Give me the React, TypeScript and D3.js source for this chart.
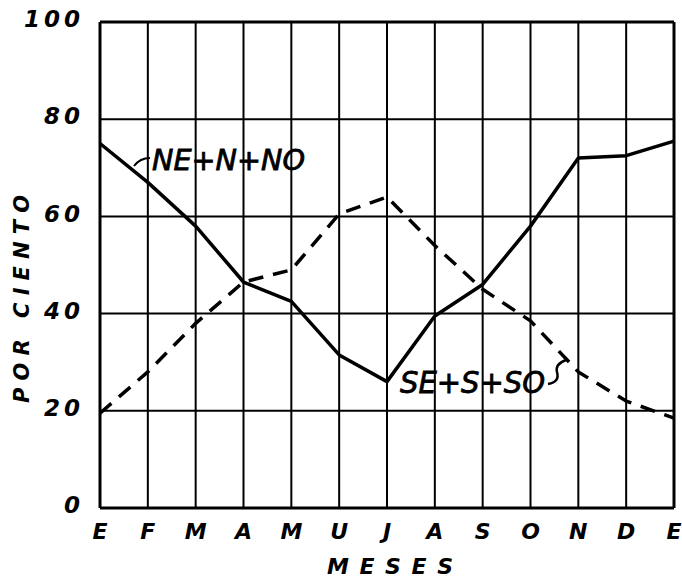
import React from "react";
import * as d3 from "d3";

const months = ["E", "F", "M", "A", "M", "U", "J", "A", "S", "O", "N", "D", "E"];
const northValues = [75, 67, 58, 46.5, 42.5, 31.5, 26, 39.5, 46, 58, 72, 72.5, 75.5];
const southValues = [19.5, 28, 38, 46.5, 49, 60.5, 64, 54, 45, 38.5, 28, 22, 18.5];
const yTicks = [0, 20, 40, 60, 80, 100];

const W = 682;
const H = 579;
const X0 = 100;
const X1 = 674;
const Y0 = 508;
const Y1 = 22;

export default function App() {
  const x = d3.scaleLinear().domain([0, months.length - 1]).range([X0, X1]);
  const y = d3.scaleLinear().domain([0, 100]).range([Y0, Y1]);
  const line = d3
    .line<number>()
    .x((_, i) => x(i))
    .y((d) => y(d));

  const font = "'DejaVu Sans', sans-serif";

  return (
    <svg width={W} height={H} style={{ position: "absolute", left: 0, top: 0, background: "#fff" }}>
      <rect x={0} y={0} width={W} height={H} fill="#fff" />
      {/* grid verticals */}
      {months.map((_, i) => (
        <line key={"v" + i} x1={x(i)} x2={x(i)} y1={Y1} y2={Y0} stroke="#000" strokeWidth={i === 0 || i === months.length - 1 ? 3 : 2} />
      ))}
      {/* grid horizontals */}
      {yTicks.map((t) => (
        <line key={"h" + t} x1={X0} x2={X1} y1={y(t)} y2={y(t)} stroke="#000" strokeWidth={t === 0 || t === 100 ? 3 : 2} />
      ))}
      {/* y tick labels */}
      {yTicks.map((t) => (
        <text key={"yt" + t} x={84} y={y(t) - 3} dy="0.36em" textAnchor="end" fontFamily={font} fontWeight="bold" fontStyle="italic" fontSize={23} letterSpacing={4}>
          {t}
        </text>
      ))}
      {/* x tick labels */}
      {months.map((m, i) => (
        <text key={"xt" + i} x={x(i)} y={531} dy="0.36em" textAnchor="middle" fontFamily={font} fontWeight="bold" fontStyle="italic" fontSize={22}>
          {m}
        </text>
      ))}
      {/* axis titles */}
      <text x={327} y={566} dy="0.36em" fontFamily={font} fontWeight="bold" fontStyle="italic" fontSize={22} textLength={126} lengthAdjust="spacing">
        MESES
      </text>
      <text transform="translate(21,403) rotate(-90)" dy="0.36em" fontFamily={font} fontWeight="bold" fontStyle="italic" fontSize={21} textLength={208} lengthAdjust="spacing">
        POR  CIENTO
      </text>
      {/* series */}
      <path d={line(northValues) || ""} fill="none" stroke="#000" strokeWidth={3.5} strokeLinejoin="round" />
      <path d={line(southValues) || ""} fill="none" stroke="#000" strokeWidth={3.5} strokeDasharray="15 10" strokeLinejoin="round" />
      {/* labels */}
      <path d="M134,166 Q140,158 150,158" fill="none" stroke="#000" strokeWidth={2} />
      <text x={152} y={160} dy="0.36em" fontFamily={font} fontStyle="italic" fontSize={28} stroke="#000" strokeWidth={0.8} textLength={153} lengthAdjust="spacingAndGlyphs">
        NE+N+NO
      </text>
      <text x={400} y={382} dy="0.36em" fontFamily={font} fontStyle="italic" fontSize={30} stroke="#000" strokeWidth={0.8} textLength={145} lengthAdjust="spacingAndGlyphs">
        SE+S+SO
      </text>
      <path d="M548,384 Q560,382 557,372 Q555,364 566,360" fill="none" stroke="#000" strokeWidth={2.5} />
    </svg>
  );
}
